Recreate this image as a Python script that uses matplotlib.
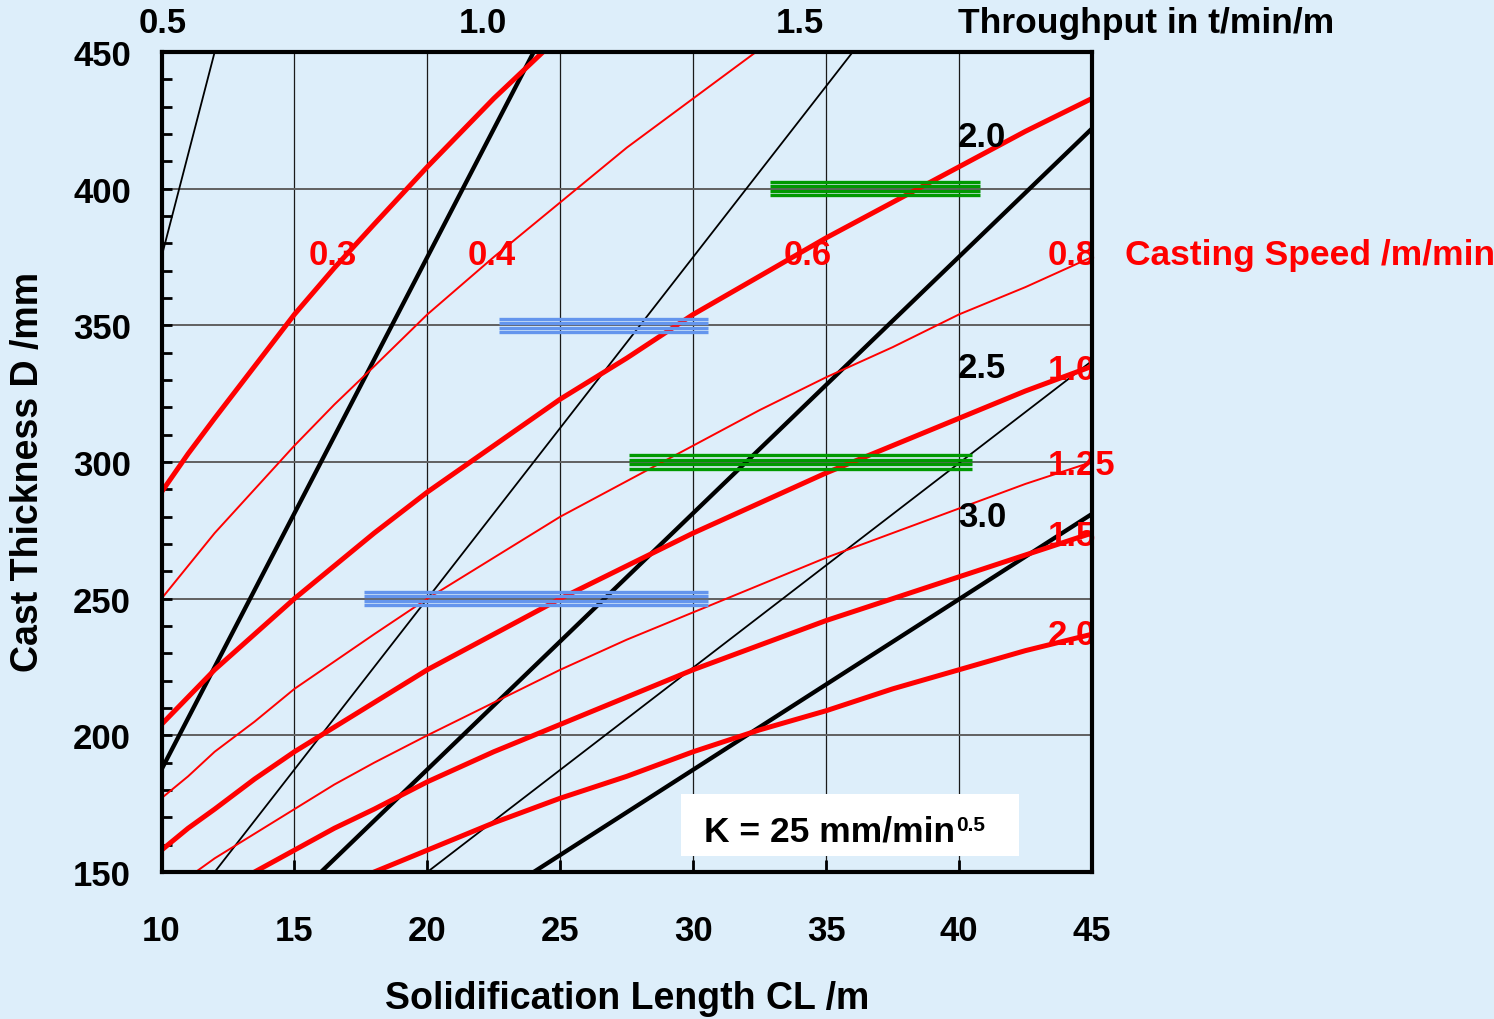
import numpy as np
import matplotlib
matplotlib.use("Agg")
import matplotlib.pyplot as plt
from matplotlib.patches import Rectangle

plt.rcParams['font.family'] = ['Liberation Sans', 'DejaVu Sans']
plt.rcParams['font.weight'] = 'bold'

# solidification length grid (m) used for the casting speed curves
cl = [10, 11, 12, 13.5, 15, 16.5, 18, 20, 22.5, 25, 27.5, 30, 32.5, 35, 37.5, 40, 42.5, 45]

# cast thickness D (mm) (m/min)
speeds = ['0.3', '0.4', '0.6', '0.8', '1.0', '1.25', '1.5', '2.0']
d_v03 = [289, 303, 316, 335, 354, 371, 387, 408, 433, 456]
d_v04 = [250, 262, 274, 290, 306, 321, 335, 354, 375, 395, 415, 433, 451]
d_v06 = [204, 214, 224, 237, 250, 262, 274, 289, 306, 323, 338, 354, 368, 382, 395, 408, 421, 433]
d_v08 = [177, 185, 194, 205, 217, 227, 237, 250, 265, 280, 293, 306, 319, 331, 342, 354, 364, 375]
d_v10 = [158, 166, 173, 184, 194, 203, 212, 224, 237, 250, 262, 274, 285, 296, 306, 316, 326, 335]
d_v125 = [141, 148, 155, 164, 173, 182, 190, 200, 212, 224, 235, 245, 255, 265, 274, 283, 292, 300]
d_v15 = [129, 135, 141, 150, 158, 166, 173, 183, 194, 204, 214, 224, 233, 242, 250, 258, 266, 274]
d_v20 = [112, 117, 122, 130, 137, 144, 150, 158, 168, 177, 185, 194, 202, 209, 217, 224, 231, 237]
speed_d = [d_v03, d_v04, d_v06, d_v08, d_v10, d_v125, d_v15, d_v20]
speed_thick = [True, False, True, False, True, False, True, True]

# throughput lines (t/min/m): end points
throughputs = ['0.5', '1.0', '1.5', '2.0', '2.5', '3.0']
tp_cl = [[9.6, 12.0], [8.0, 24.0], [12.0, 36.0], [16.0, 45.0], [20.0, 45.0], [24.0, 45.0]]
tp_d = [[360, 450], [150, 450], [150, 450], [150, 422], [150, 337], [150, 281]]
tp_thick = [False, True, False, True, False, True]

# striped horizontal bars
bar_d = [400, 350, 300, 250]
bar_start = [32.9, 22.7, 27.6, 17.6]
bar_end = [40.8, 30.55, 40.5, 30.55]
bar_colors = ['#009900', '#6495ED', '#009900', '#6495ED']

bg = '#DDEEFA'
red = '#FF0000'

fig = plt.figure(figsize=(14.94, 10.2), dpi=100, facecolor=bg)
ax = fig.add_axes([161.5 / 1494, 1 - 873 / 1020, 930.5 / 1494, 820 / 1020])
ax.set_facecolor(bg)
ax.set_xlim(10, 45)
ax.set_ylim(150, 450)

# grid
for x in range(15, 45, 5):
    ax.axvline(x, color='#1a1a1a', lw=0.9, zorder=1)
for y in range(200, 450, 50):
    ax.axhline(y, color='#606060', lw=1.4, zorder=1)

# throughput lines
for c, d, thick in zip(tp_cl, tp_d, tp_thick):
    ax.plot(c, d, color='black', lw=3.1 if thick else 1.3, zorder=3, solid_capstyle='butt')

# casting speed lines
for d, thick in zip(speed_d, speed_thick):
    ax.plot(cl[:len(d)], d, color=red, lw=3.6 if thick else 1.4, zorder=4)

# striped bars
for y, x0, x1, col in zip(bar_d, bar_start, bar_end, bar_colors):
    for off in [-2.4, -0.8, 0.8, 2.4]:
        ax.plot([x0, x1], [y + off, y + off], color=col, lw=2.4, zorder=5,
                solid_capstyle='butt')

# K box
ax.add_patch(Rectangle((29.54, 155.8), 42.25 - 29.54, 178.5 - 155.8,
                       facecolor='white', edgecolor='none', zorder=2))
ktxt = ax.text(30.4, 161.7, 'K = 25 mm/min', fontsize=25.5, fontweight='bold',
               va='baseline', ha='left', zorder=6)
ax.annotate('0.5', xy=(1.0, 0.68), xycoords=ktxt, fontsize=15, fontweight='bold',
            va='center', ha='left', xytext=(1, 0), textcoords='offset points', zorder=6)

# casting speed labels
speed_lbl_pos = [(15.55, 376), (21.5, 376), (33.4, 376), (43.34, 376),
                 (43.34, 334), (43.34, 299), (43.34, 273), (43.34, 237)]
for s, (x, y) in zip(speeds, speed_lbl_pos):
    ax.text(x, y, s, color=red, fontsize=25, fontweight='bold', va='center',
            ha='left', zorder=7, clip_on=False)
ax.text(46.23, 376, 'Casting Speed /m/min', color=red, fontsize=25.5,
        fontweight='bold', va='center', ha='left', clip_on=False)

# throughput labels
tp_lbl_pos = [(10.06, 460.8, 'center'), (22.09, 460.8, 'center'), (34.0, 460.8, 'center'),
              (39.95, 419, 'left'), (39.95, 334.5, 'left'), (39.95, 280, 'left')]
for s, (x, y, ha) in zip(throughputs, tp_lbl_pos):
    ax.text(x, y, s, color='black', fontsize=25, fontweight='bold', va='center',
            ha=ha, zorder=7, clip_on=False)
ax.text(39.95, 460.8, 'Throughput in t/min/m', color='black', fontsize=25.5,
        fontweight='bold', va='center', ha='left', clip_on=False)

# axes styling
ax.set_xticks(range(10, 46, 5))
ax.set_yticks(range(150, 451, 50))
ax.set_yticks(range(150, 451, 10), minor=True)
ax.tick_params(axis='x', direction='in', length=9, width=2, labelsize=25, pad=30.5,
               top=False)
ax.tick_params(axis='y', direction='in', length=7, width=2, labelsize=25, pad=22,
               right=False)
ax.tick_params(axis='y', which='minor', direction='in', length=7, width=2, right=False)
ax.tick_params(axis='x', which='minor', bottom=False, top=False)
for sp in ax.spines.values():
    sp.set_linewidth(3)
    sp.set_zorder(8)

fig.text(627 / 1494, 1 - 999 / 1020, 'Solidification Length CL /m', fontsize=27,
         fontweight='bold', ha='center', va='center')
fig.text(28 / 1494, 1 - 472 / 1020, 'Cast Thickness D /mm', fontsize=27,
         fontweight='bold', ha='center', va='center', rotation=90)

fig.savefig('out.png', dpi=100, facecolor=bg)
